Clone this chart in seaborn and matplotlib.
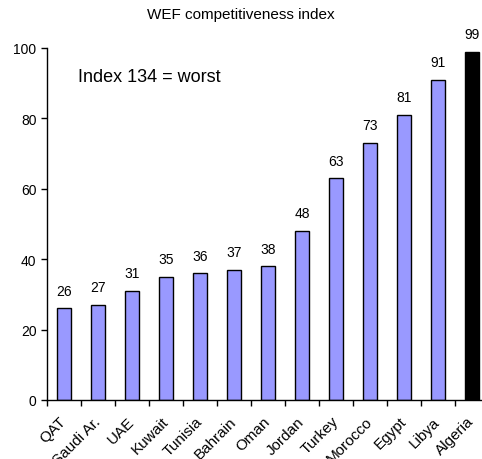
import matplotlib
matplotlib.use("Agg")
import matplotlib.pyplot as plt
import matplotlib.transforms as mtransforms
import seaborn as sns
import pandas as pd

countries = ["QAT", "Saudi Ar.", "UAE", "Kuwait", "Tunisia", "Bahrain", "Oman",
             "Jordan", "Turkey", "Morocco", "Egypt", "Libya", "Algeria"]
values = [26, 27, 31, 35, 36, 37, 38, 48, 63, 73, 81, 91, 99]
bar_colors = ["#9999FF"] * 12 + ["#000000"]

sns.set_style("white")
plt.rcParams['font.family'] = ['Liberation Sans', 'DejaVu Sans']
plt.rcParams['text.color'] = 'black'
plt.rcParams['xtick.color'] = 'black'
plt.rcParams['ytick.color'] = 'black'

df = pd.DataFrame({"country": countries, "value": values})

fig = plt.figure(figsize=(4.82, 4.60), dpi=100)
ax = fig.add_axes([47/482, 59/460, 442/482, 352/460])
sns.barplot(data=df, x="country", y="value", hue="country", palette=bar_colors,
            legend=False, width=0.42, edgecolor="black", linewidth=1, ax=ax,
            saturation=1)

for i, v in enumerate(values):
    ax.text(i, v + 3, str(v), ha="center", va="bottom", fontsize=10, color="black")

ax.set_xlim(-0.5, 12.5)
ax.set_ylim(0, 100)
ax.set_yticks([0, 20, 40, 60, 80, 100])
ax.set_xlabel("")
ax.set_ylabel("")
for s in ["top", "right"]:
    ax.spines[s].set_visible(False)
for s in ["left", "bottom"]:
    ax.spines[s].set_color("black")
    ax.spines[s].set_linewidth(1)
ax.set_xticks([i - 0.5 for i in range(13)], minor=False)
ax.set_xticklabels([])
ax.set_xticks(range(13), minor=True)
ax.set_xticklabels(countries, minor=True, rotation=45, ha="right",
                   rotation_mode="anchor", fontsize=11)
ax.tick_params(axis="x", which="major", direction="out", length=4, color="black", width=1, bottom=True)
ax.tick_params(axis="x", which="minor", length=0, pad=10, bottom=True)
ax.tick_params(axis="y", direction="out", length=4, color="black", width=1, labelsize=10, left=True)

offset = mtransforms.ScaledTranslation(-5 / 100, 0, fig.dpi_scale_trans)
for lab in ax.get_xticklabels(minor=True):
    lab.set_transform(lab.get_transform() + offset)

ax.text(0.07, 0.92, "Index 134 = worst", transform=ax.transAxes, fontsize=13,
        ha="left", va="center", color="black")
fig.text(0.5, 0.967, "WEF competitiveness index", ha="center", va="center", fontsize=11,
         color="black")

fig.savefig("out.png", dpi=100)
